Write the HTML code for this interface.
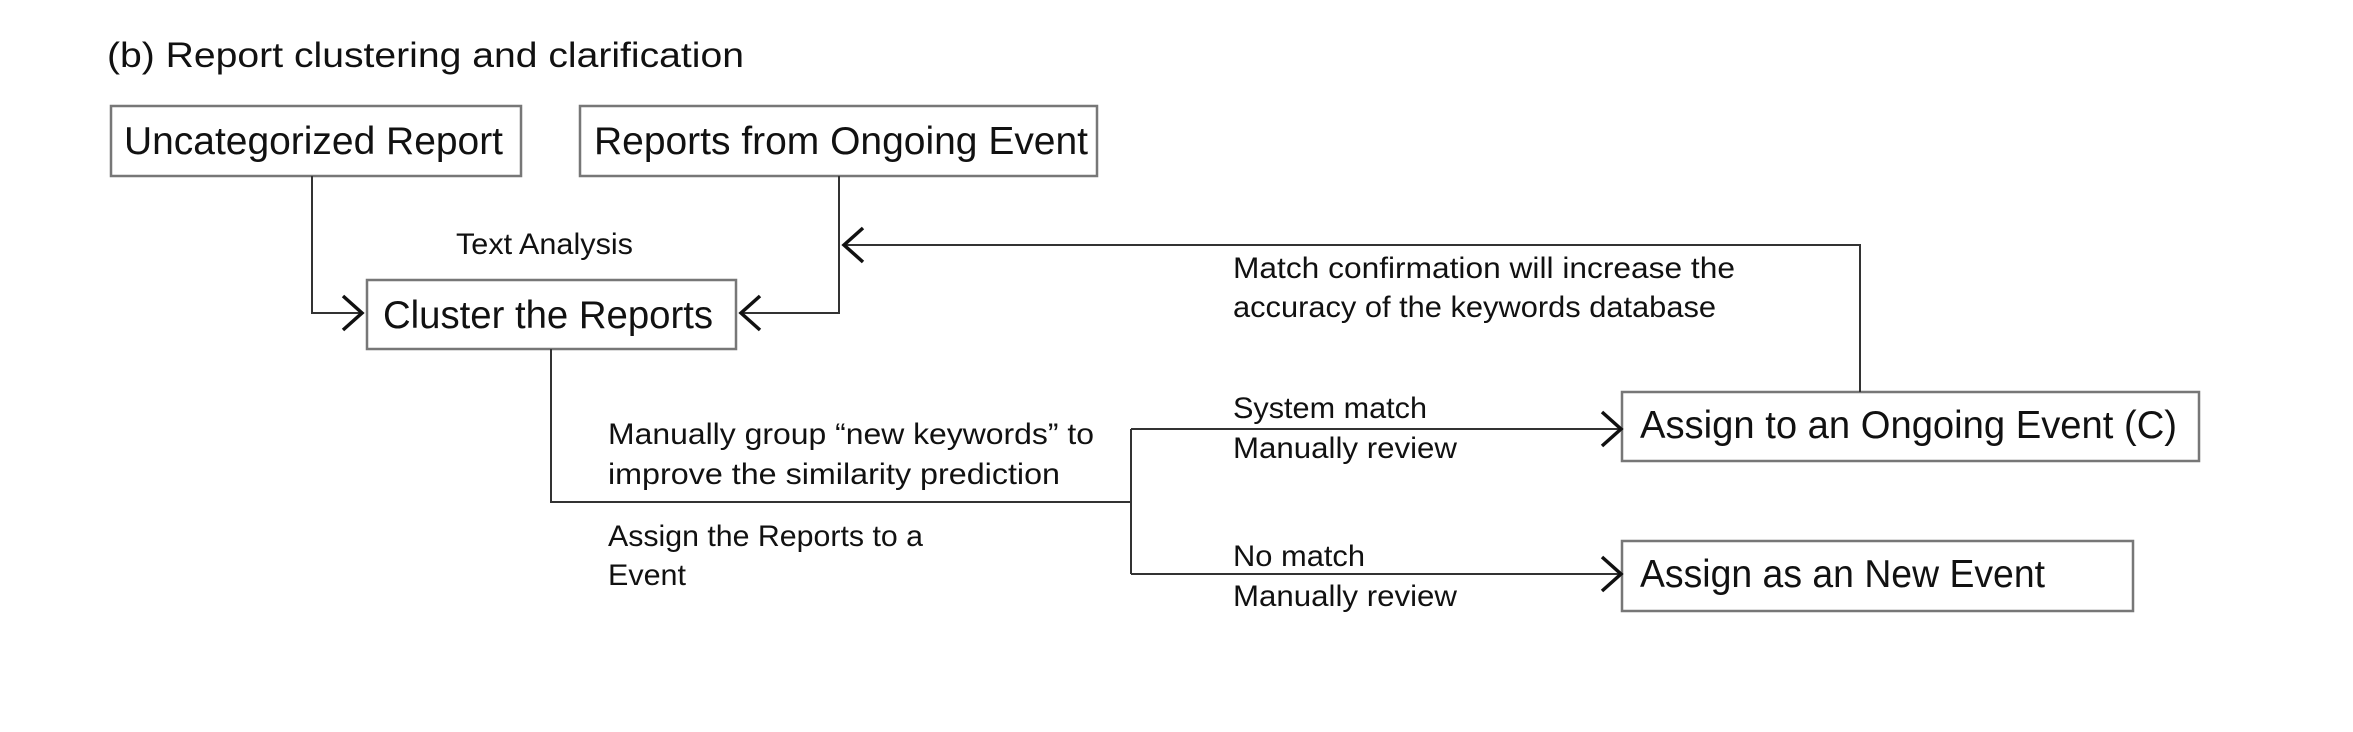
<!DOCTYPE html>
<html><head><style>html,body{margin:0;padding:0;background:#fff}svg{display:block}</style></head>
<body>
<svg width="2353" height="732" viewBox="0 0 2353 732" xmlns="http://www.w3.org/2000/svg" font-family="'Liberation Sans Narrow','Liberation Sans',sans-serif" fill="#111">
<g fill="none" stroke="#777" stroke-width="2.5">
<rect x="111" y="106" width="410" height="70"/>
<rect x="580" y="106" width="517" height="70"/>
<rect x="367" y="280" width="369" height="69"/>
<rect x="1622" y="392" width="577" height="69"/>
<rect x="1622" y="541" width="511" height="70"/>
</g>
<g fill="none" stroke="#333" stroke-width="2">
<polyline points="312,176 312,313 363,313"/>
<polyline points="839,176 839,313 740,313"/>
<polyline points="843,245 1860,245 1860,392"/>
<polyline points="551,349 551,502 1131,502"/>
<polyline points="1131,429 1131,574"/>
<polyline points="1131,429 1620,429"/>
<polyline points="1131,574 1620,574"/>
</g>
<g fill="none" stroke="#111" stroke-width="3.5">
<polyline points="343,296 362,313 343,330"/>
<polyline points="760,296 741,313 760,330"/>
<polyline points="863,228 844,245 863,262"/>
<polyline points="1602,412 1621,429 1602,446"/>
<polyline points="1602,557 1621,574 1602,591"/>
</g>
<text x="107" y="67" font-size="35" textLength="637" lengthAdjust="spacingAndGlyphs">(b) Report clustering and clarification</text>
<g font-size="39">
<text x="124" y="154" textLength="379" lengthAdjust="spacingAndGlyphs">Uncategorized Report</text>
<text x="594" y="154" textLength="494" lengthAdjust="spacingAndGlyphs">Reports from Ongoing Event</text>
<text x="383" y="328" textLength="330" lengthAdjust="spacingAndGlyphs">Cluster the Reports</text>
<text x="1640" y="438" textLength="537" lengthAdjust="spacingAndGlyphs">Assign to an Ongoing Event (C)</text>
<text x="1640" y="587" textLength="405" lengthAdjust="spacingAndGlyphs">Assign as an New Event</text>
</g>
<g font-size="30">
<text x="456" y="254" textLength="177" lengthAdjust="spacingAndGlyphs">Text Analysis</text>
<text x="608" y="444" textLength="486" lengthAdjust="spacingAndGlyphs">Manually group “new keywords” to</text>
<text x="608" y="484" textLength="452" lengthAdjust="spacingAndGlyphs">improve the similarity prediction</text>
<text x="608" y="546" textLength="315" lengthAdjust="spacingAndGlyphs">Assign the Reports to a</text>
<text x="608" y="585" textLength="78" lengthAdjust="spacingAndGlyphs">Event</text>
<text x="1233" y="278" textLength="502" lengthAdjust="spacingAndGlyphs">Match confirmation will increase the</text>
<text x="1233" y="317" textLength="483" lengthAdjust="spacingAndGlyphs">accuracy of the keywords database</text>
<text x="1233" y="418" textLength="194" lengthAdjust="spacingAndGlyphs">System match</text>
<text x="1233" y="458" textLength="224" lengthAdjust="spacingAndGlyphs">Manually review</text>
<text x="1233" y="566" textLength="132" lengthAdjust="spacingAndGlyphs">No match</text>
<text x="1233" y="606" textLength="224" lengthAdjust="spacingAndGlyphs">Manually review</text>
</g>
</svg>
</body></html>
